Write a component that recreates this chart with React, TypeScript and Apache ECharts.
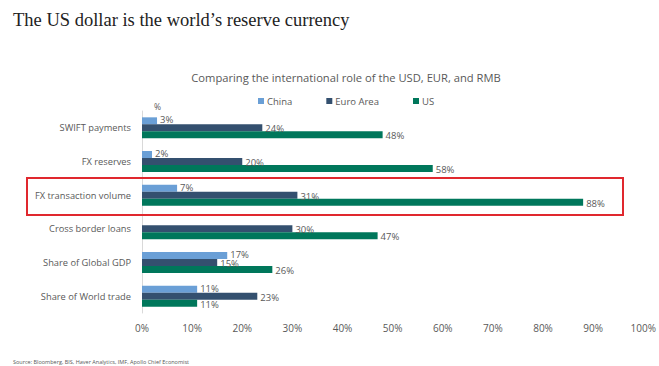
import React, { useEffect, useRef } from "react";
import * as echarts from "echarts";

const categories = [
  "SWIFT payments",
  "FX reserves",
  "FX transaction volume",
  "Cross border loans",
  "Share of Global GDP",
  "Share of World trade",
];
const chinaValues: (number | string)[] = [3, 2, 7, "-", 17, 11];
const euroValues = [24, 20, 31, 30, 15, 23];
const usValues = [48, 58, 88, 47, 26, 11];
const xTicks = [0, 10, 20, 30, 40, 50, 60, 70, 80, 90, 100];

const FONT = "'Open Sans', 'Noto Sans', sans-serif";
const GRAY = "#595959";

export default function App() {
  const ref = useRef<HTMLDivElement>(null);
  useEffect(() => {
    if (!ref.current) return;
    const chart = echarts.init(ref.current, undefined, { renderer: "svg" });
    const label = {
      show: true,
      position: "right" as const,
      distance: 3,
      formatter: "{c}%",
      color: GRAY,
      fontSize: 9.5,
      fontFamily: FONT,
    };
    chart.setOption({
      animation: false,
      textStyle: { fontFamily: FONT },
      title: [
        {
          text: "The US dollar is the world\u2019s reserve currency",
          left: 8,
          top: 5,
          textStyle: {
            fontFamily: "'Liberation Serif', 'DejaVu Serif', serif",
            fontSize: 18.5,
            fontWeight: "normal",
            color: "#222",
          },
        },
        {
          text: "Comparing the international role of the USD, EUR, and RMB",
          left: 341,
          textAlign: "center",
          top: 67,
          textStyle: { fontFamily: FONT, fontSize: 11.2, fontWeight: "normal", color: GRAY },
        },
        {
          text: "%",
          left: 149,
          top: 97,
          textStyle: { fontFamily: FONT, fontSize: 8.5, fontWeight: "normal", color: GRAY },
        },
        {
          text: "Source: Bloomberg, BIS, Haver Analytics, IMF, Apollo Chief Economist",
          left: 8,
          top: 354,
          textStyle: { fontFamily: FONT, fontSize: 5.5, fontWeight: "normal", color: GRAY },
        },
      ],
      legend: {
        top: 91,
        left: 253,
        itemWidth: 6,
        itemHeight: 6,
        itemGap: 34,
        icon: "rect",
        textStyle: { fontFamily: FONT, fontSize: 9.5, color: GRAY, padding: [0, 0, 0, -2] },
        data: ["China", "Euro Area", "US"],
      },
      grid: { left: 142, right: 15, top: 111, bottom: 53, containLabel: false },
      xAxis: {
        type: "value",
        min: 0,
        max: 100,
        interval: 10,
        axisLine: { show: false },
        axisTick: { show: false },
        splitLine: { show: false },
        axisLabel: {
          color: GRAY,
          fontSize: 10,
          fontFamily: FONT,
          margin: 10,
          formatter: (v: number) => (xTicks.includes(v) ? v + "%" : ""),
        },
      },
      yAxis: {
        type: "category",
        data: categories,
        inverse: true,
        axisLine: { show: true, lineStyle: { color: "#d9d9d9", width: 1 } },
        axisTick: { show: false },
        axisLabel: { color: GRAY, fontSize: 9.3, fontFamily: FONT, margin: 11 },
      },
      series: [
        {
          name: "China",
          type: "bar",
          data: chinaValues,
          barWidth: 7,
          barGap: "0%",
          itemStyle: { color: "#6a9fd6" },
          label: { ...label, offset: [0, -1] },
        },
        {
          name: "Euro Area",
          type: "bar",
          data: euroValues,
          barWidth: 7,
          barGap: "0%",
          itemStyle: { color: "#34506f" },
          label: { ...label, offset: [0, 1] },
        },
        {
          name: "US",
          type: "bar",
          data: usValues,
          barWidth: 7,
          barGap: "0%",
          itemStyle: { color: "#00775b" },
          label: { ...label, offset: [0, 1] },
        },
      ],
      graphic: [
        {
          type: "rect",
          shape: { x: 27, y: 178, width: 596, height: 37 },
          style: { fill: "none", stroke: "#e0282e", lineWidth: 2 },
          z: 100,
        },
      ],
    });
    return () => chart.dispose();
  }, []);
  return <div ref={ref} style={{ width: 659, height: 366, position: "absolute", left: 0, top: 0, background: "#fff" }} />;
}
